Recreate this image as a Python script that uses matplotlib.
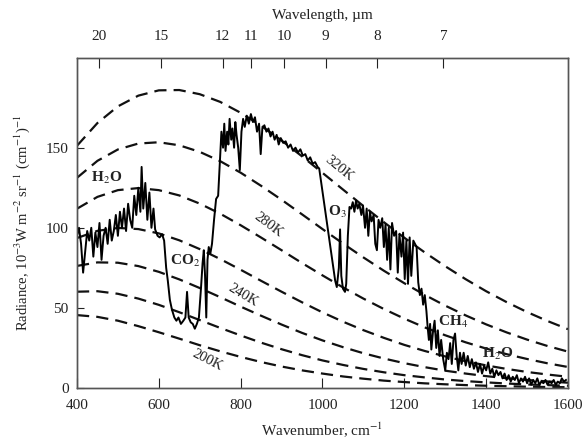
import matplotlib
matplotlib.use("Agg")
import matplotlib.pyplot as plt

plt.rcParams['font.family'] = ['Liberation Serif', 'DejaVu Serif']
plt.rcParams['mathtext.fontset'] = 'stix'

# blackbody reference curves, read at 50 cm-1 steps
nu_grid = list(range(400, 1601, 50))
temps = [320, 300, 280, 260, 240, 220, 200]
bb_320 = [151.2, 165.4, 175.8, 182.5, 185.8, 186.0, 183.4, 178.6, 171.8, 163.7, 154.5, 144.6, 134.3,
          123.9, 113.6, 103.5, 93.8, 84.6, 76.0, 67.9, 60.4, 53.6, 47.4, 41.8, 36.7]
bb_300 = [131.2, 141.8, 148.9, 152.6, 153.4, 151.5, 147.4, 141.6, 134.4, 126.2, 117.5, 108.4, 99.2,
          90.2, 81.5, 73.2, 65.4, 58.1, 51.4, 45.3, 39.7, 34.7, 30.2, 26.2, 22.7]
bb_280 = [111.9, 119.3, 123.5, 124.8, 123.5, 120.2, 115.1, 108.8, 101.6, 93.9, 86.0, 78.0, 70.3,
          62.8, 55.8, 49.3, 43.3, 37.8, 32.9, 28.5, 24.6, 21.1, 18.1, 15.4, 13.1]
bb_260 = [93.6, 98.1, 99.9, 99.2, 96.5, 92.2, 86.7, 80.5, 73.8, 66.9, 60.1, 53.5, 47.2,
          41.4, 36.1, 31.3, 26.9, 23.1, 19.7, 16.7, 14.1, 11.9, 10.0, 8.4, 7.0]
bb_240 = [76.2, 78.4, 78.2, 76.1, 72.5, 67.8, 62.4, 56.7, 50.8, 45.1, 39.6, 34.4, 29.7,
          25.5, 21.7, 18.4, 15.5, 13.0, 10.8, 9.0, 7.4, 6.1, 5.0, 4.1, 3.3]
bb_220 = [60.1, 60.4, 58.8, 55.8, 51.9, 47.3, 42.4, 37.5, 32.8, 28.3, 24.2, 20.5, 17.2,
          14.4, 11.9, 9.8, 8.0, 6.6, 5.3, 4.3, 3.5, 2.8, 2.2, 1.8, 1.4]
bb_200 = [45.5, 44.4, 42.0, 38.6, 34.8, 30.8, 26.7, 22.9, 19.4, 16.2, 13.4, 11.0, 9.0,
          7.2, 5.8, 4.6, 3.7, 2.9, 2.3, 1.8, 1.4, 1.1, 0.8, 0.6, 0.5]
bb_curves = [bb_320, bb_300, bb_280, bb_260, bb_240, bb_220, bb_200]

# measured spectrum (traced)
spec_nu = [400, 405, 410, 415, 420, 425, 430, 435, 440, 445, 450, 455, 460, 465, 470, 475, 480, 485,
           490, 495, 500, 505, 510, 515, 520, 525, 530, 535, 540, 545, 550, 555, 558, 562, 567, 572,
           577, 582, 587, 591, 597, 602, 608, 613, 618, 622, 627, 632, 638, 643, 648, 654, 660, 665,
           669, 673, 678, 683, 688, 693, 698, 703, 707, 710, 713, 716, 719, 722, 726, 730, 735, 740,
           745, 750, 753, 757, 760, 763, 767, 770, 773, 777, 780, 784, 787, 790, 794, 798, 802, 806,
           810, 815, 820, 825, 830, 835, 840, 845, 849, 853, 858, 863, 868, 873, 878, 883, 888, 893,
           898, 904, 910, 916, 922, 928, 934, 940, 946, 952, 958, 964, 970, 976, 982, 988, 992,
           1031, 1035, 1040, 1043, 1046, 1050, 1055, 1058, 1062, 1066, 1070, 1074, 1078, 1082, 1086,
           1090, 1095, 1099, 1104, 1108, 1112, 1116, 1120, 1125, 1129, 1133, 1137, 1141, 1146, 1150,
           1154, 1158, 1162, 1166, 1170, 1175, 1180, 1184, 1188, 1193, 1197, 1201, 1205, 1209, 1213,
           1217, 1222, 1226, 1230, 1234, 1238, 1242, 1246, 1250, 1254, 1257, 1260, 1263, 1266, 1270,
           1274, 1278, 1282, 1286, 1290, 1295, 1300, 1304, 1308, 1312, 1316, 1320, 1324, 1328, 1332,
           1336, 1340, 1345, 1350, 1355, 1360, 1365, 1370, 1375, 1380, 1385, 1390, 1395, 1400, 1405,
           1410, 1415, 1420, 1425, 1430, 1435, 1440, 1445, 1450, 1455, 1460, 1465, 1470, 1475, 1480,
           1485, 1490, 1495, 1500, 1505, 1510, 1515, 1520, 1525, 1530, 1535, 1540, 1545, 1550, 1555,
           1560, 1565, 1570, 1575, 1580, 1585, 1590, 1595]
spec_rad = [95, 100, 90, 72, 85, 98, 92, 100, 82, 97, 88, 103, 80, 95, 100, 90, 105, 92,
            98, 108, 95, 110, 100, 112, 98, 115, 105, 100, 120, 108, 125, 110, 138, 112, 128, 105,
            122, 100, 112, 99, 95, 94, 96, 92, 75, 67, 55, 49, 44, 42, 44, 40, 42, 44,
            60, 44, 41, 40, 37, 40, 44, 62, 78, 86, 70, 44, 80, 88, 84, 90, 105, 118,
            120, 145, 160, 150, 165, 148, 160, 152, 168, 155, 162, 150, 166, 158, 150, 136, 160, 168,
            163, 170, 165, 171, 166, 169, 160, 165, 146, 162, 164, 160, 162, 157, 160, 155, 158, 152,
            156, 153, 154, 150, 152, 148, 150, 147, 149, 145, 146, 142, 144, 140, 141, 138, 137,
            67, 63, 75, 99, 70, 62, 60, 65, 95, 113, 112, 116, 110, 117, 112,
            115, 108, 114, 100, 112, 95, 110, 104, 108, 90, 86, 105, 100, 106, 88,
            102, 80, 100, 74, 103, 95, 98, 72, 96, 82, 97, 68, 92, 65, 94,
            70, 92, 90, 88, 66, 58, 62, 52, 58, 48, 38, 30, 40, 24, 35,
            42, 25, 36, 20, 30, 18, 11, 22, 18, 28, 15, 30, 34, 20, 11,
            22, 15, 22, 14, 20, 13, 18, 12, 16, 10, 15, 9, 14, 11, 16,
            9, 12, 7, 11, 8, 10, 6, 9, 5, 8, 4, 7, 5, 8, 3,
            6, 4, 7, 3, 6, 2, 5, 3, 6, 2, 4, 3, 5, 2, 4,
            3, 5, 2, 4, 3, 6, 4, 5]

wl_ticks = [20, 15, 12, 11, 10, 9, 8, 7]

ink = '#222222'
fig = plt.figure(figsize=(5.84, 4.42), dpi=100)
ax = fig.add_axes([0.1318, 0.1222, 0.8408, 0.7466])

for vals in bb_curves:
    ax.plot(nu_grid, vals, color='#111111', lw=1.6, linestyle=(0, (5.5, 3.2)), zorder=2)
ax.plot(spec_nu, spec_rad, color='black', lw=1.4, zorder=3)

ax.set_xlim(400, 1600)
ax.set_ylim(0, 206)
ax.set_xticks([400, 600, 800, 1000, 1200, 1400, 1600])
ax.set_yticks([0, 50, 100, 150])
ax.tick_params(axis='x', direction='in', length=7, pad=8, labelsize=11, colors=ink)
ax.tick_params(axis='y', direction='in', length=5, pad=6, labelsize=11, colors=ink)
for s in ax.spines.values():
    s.set_color('#555555')
    s.set_linewidth(1.0)
ax.set_xlabel('Wavenumber, cm$^{-1}$', fontsize=11, color=ink, labelpad=6)
ax.set_ylabel('Radiance, 10$^{-3}$W m$^{-2}$ sr$^{-1}$ (cm$^{-1}$)$^{-1}$',
              fontsize=10.5, color=ink, labelpad=10)

# wavelength axis on top (positions as drawn in the original)
top = ax.twiny()
top.set_xlim(440, 1765)
top.set_xticks([1e4 / w for w in wl_ticks])
top.set_xticklabels([str(w) for w in wl_ticks])
top.tick_params(axis='x', direction='in', length=7, pad=11, labelsize=11, colors=ink)
top.set_xlabel('Wavelength, µm', fontsize=11, color=ink, labelpad=8)
for s in top.spines.values():
    s.set_color('#555555')
    s.set_linewidth(1.0)

# temperature labels
ax.text(1040, 137, '320K', rotation=-39, fontsize=10.5, color=ink, ha='center', va='center')
ax.text(867, 102, '280K', rotation=-37, fontsize=10.5, color=ink, ha='center', va='center')
ax.text(806, 58, '240K', rotation=-31, fontsize=10.5, color=ink, ha='center', va='center')
ax.text(718, 17.5, '200K', rotation=-27, fontsize=10.5, color=ink, ha='center', va='center')

# absorber labels
mol = dict(fontsize=11, color=ink, ha='center', va='center', fontweight='bold')
ax.text(473, 131, 'H$_2$O', **mol)
ax.text(664, 79, 'CO$_2$', **mol)
ax.text(1036, 110, 'O$_3$', **mol)
ax.text(1320, 41, 'CH$_4$', **mol)
ax.text(1427, 21, 'H$_2$O', **mol)

fig.savefig('out.png', dpi=100)
